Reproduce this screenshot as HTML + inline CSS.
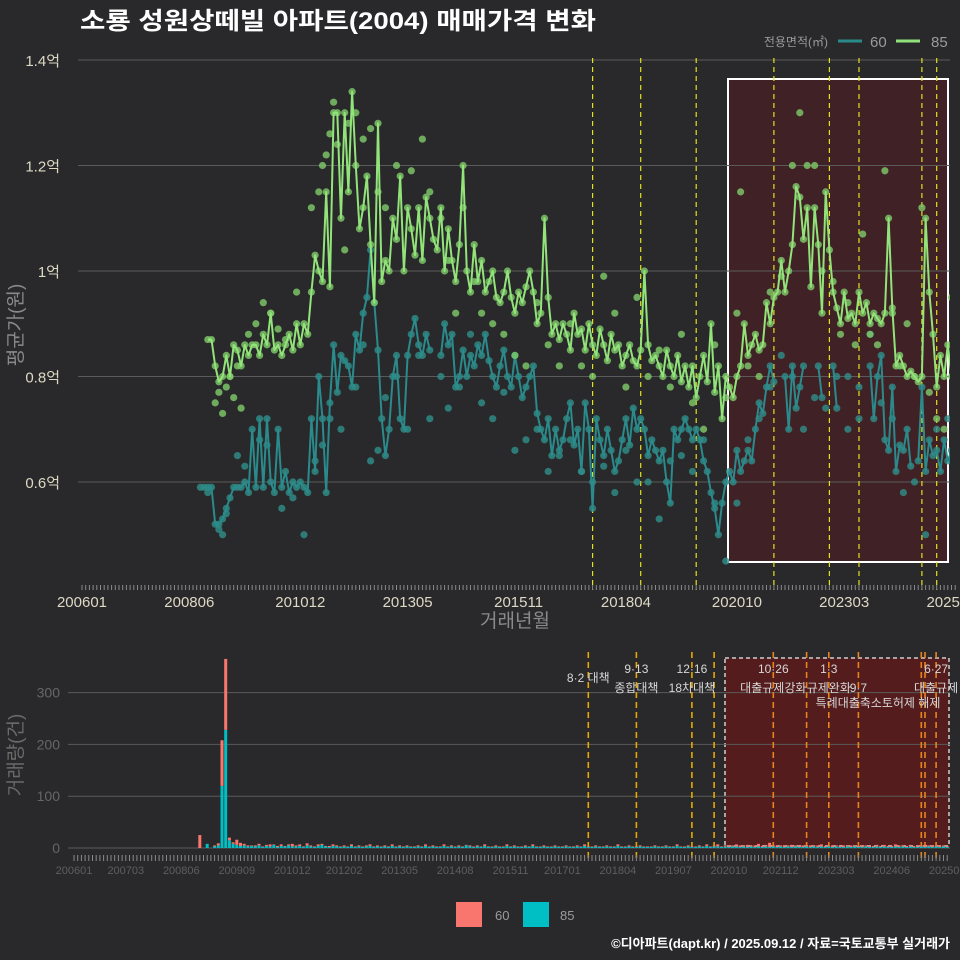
<!DOCTYPE html>
<html><head><meta charset="utf-8">
<style>
html,body{margin:0;padding:0;background:#29292b;width:960px;height:960px;overflow:hidden}
svg{display:block}
text{font-family:"Liberation Sans","Noto Sans CJK KR",sans-serif}
</style></head>
<body>
<svg id="chart" width="960" height="960" viewBox="0 0 960 960" xmlns="http://www.w3.org/2000/svg">
<rect x="0" y="0" width="960" height="960" fill="#29292b"/>
<text x="80" y="29" fill="#ffffff" font-size="24" font-weight="bold" textLength="516" lengthAdjust="spacingAndGlyphs">소룡 성원상떼빌 아파트(2004) 매매가격 변화</text>
<g>
<text x="828" y="46" fill="#9a9a9a" font-size="12" text-anchor="end">전용면적(㎡)</text>
<line x1="838" y1="41" x2="862" y2="41" stroke="#2a8a8a" stroke-width="3"/>
<text x="870" y="47" fill="#9a9a9a" font-size="15">60</text>
<line x1="896" y1="41" x2="920" y2="41" stroke="#90e27a" stroke-width="3"/>
<text x="931" y="47" fill="#9a9a9a" font-size="15">85</text>
</g>
<g id="topPanel"></g>
<g id="bottomPanel"></g>
<text transform="translate(22,325) rotate(-90)" fill="#8a8a8a" font-size="19" text-anchor="middle">평균가(원)</text>
<text x="515" y="627" fill="#8a8a8a" font-size="19" text-anchor="middle">거래년월</text>
<text transform="translate(22,755) rotate(-90)" fill="#6a6a6a" font-size="19" text-anchor="middle">거래량(건)</text>
<g>
<rect x="456" y="902" width="26" height="25" fill="#f8766d"/>
<text x="495" y="920" fill="#9a9a9a" font-size="13">60</text>
<rect x="523" y="902" width="26" height="25" fill="#00bfc4"/>
<text x="560" y="920" fill="#9a9a9a" font-size="13">85</text>
</g>
<text x="950" y="948" fill="#ffffff" font-size="13" font-weight="bold" text-anchor="end">©디아파트(dapt.kr) / 2025.09.12 / 자료=국토교통부 실거래가</text>
</svg>
<script>
// ---- data ----
const startMonth85 = 200811;
const price85 = [0.87,0.87,
0.82,0.79,0.80,0.84,0.80,0.86,0.85,0.82,0.86,0.84,0.86,0.86,
0.84,0.88,0.86,0.92,0.85,0.86,0.84,0.86,0.88,0.85,0.90,0.86,
0.90,0.88,0.96,1.03,1.00,0.98,1.15,0.97,1.30,1.30,1.10,1.30,
1.15,1.34,1.20,1.08,1.12,1.18,1.05,0.94,1.28,0.98,1.02,1.00,
1.10,1.06,1.18,1.00,1.12,1.08,1.03,1.12,1.02,1.14,1.10,1.06,
1.04,1.12,1.00,1.08,1.02,0.98,1.05,1.20,1.00,0.96,1.05,0.98,
1.02,0.96,0.98,1.00,0.95,0.94,0.96,1.00,0.95,0.92,0.96,0.94,
0.97,1.00,0.96,0.90,0.92,1.10,0.95,0.88,0.90,0.87,0.90,0.88,
0.85,0.92,0.88,0.89,0.85,0.90,0.86,0.84,0.89,0.86,0.83,0.88,
0.85,0.86,0.82,0.84,0.86,0.83,0.82,0.85,1.00,0.86,0.83,0.84,
0.82,0.80,0.85,0.82,0.80,0.84,0.79,0.82,0.78,0.82,0.76,0.80,
0.84,0.79,0.90,0.77,0.82,0.72,0.80,0.78,0.76,0.80,0.82,0.90,
0.84,0.86,0.88,0.85,0.86,0.94,0.90,0.95,0.96,1.02,0.96,1.00,
1.05,1.16,1.14,1.06,1.12,0.97,1.12,1.05,0.92,1.15,1.04,0.96,
0.93,0.90,0.96,0.91,0.92,0.90,0.96,0.92,0.94,0.90,0.92,0.91,
0.90,0.92,1.10,0.93,0.82,0.84,0.82,0.80,0.81,0.80,0.79,0.80,
1.10,0.96,0.88,0.78,0.84,0.80,0.86,0.80,0.86];
const startMonth60 = 200810;
const price60 = [0.59,0.59,0.59,
0.52,0.52,0.53,0.55,0.57,0.59,0.59,0.59,0.60,0.58,0.70,0.59,
0.72,0.59,0.72,0.60,0.58,0.70,0.59,0.62,0.58,0.60,0.59,0.60,
0.59,0.58,0.72,0.62,0.80,0.72,0.58,0.75,0.86,0.77,0.84,0.83,
0.82,0.78,0.88,0.85,0.92,0.95,1.04,0.94,0.85,0.72,0.65,0.70,
0.80,0.84,0.72,0.70,0.84,0.88,0.91,0.86,0.84,0.88,0.85,null,
null,0.84,0.90,0.86,0.88,0.78,0.80,0.85,0.80,0.84,0.82,0.86,
0.84,0.88,0.83,0.80,0.78,0.82,0.85,0.80,0.78,0.84,0.80,0.76,
0.78,0.80,0.82,0.73,0.70,0.68,0.72,0.65,0.70,0.66,0.68,0.72,
0.75,0.67,0.70,0.62,0.75,0.70,0.55,0.72,0.68,0.65,0.70,0.66,
0.62,0.64,0.68,0.72,0.67,0.74,0.70,0.72,0.70,0.65,0.68,0.66,
0.64,0.66,0.60,0.56,0.70,0.68,0.70,0.72,0.70,0.68,0.70,0.68,
0.64,0.62,0.58,0.55,0.50,0.56,0.60,0.62,0.60,0.66,0.62,0.64,
0.66,0.64,0.70,0.75,0.73,0.78,0.82,0.79,null,null,0.80,0.70,
0.82,0.74,0.78,0.82,null,null,null,0.82,0.76,null,null,0.82,
0.74,null,null,0.80,null,null,0.78,null,null,0.82,0.72,0.80,
0.84,0.68,0.66,0.78,0.62,0.67,0.66,0.70,0.63,null,0.64,0.78,
0.62,0.68,0.65,0.66,0.62,0.68,0.64,0.66,0.65];
const extra85 = [[200901,0.75],[200902,0.77],[200903,0.73],[200904,0.78],[200905,0.80],[200906,0.76],[200907,0.82],[200908,0.74],[200910,0.88],[200912,0.90],[201002,0.94],[201004,0.92],[201006,0.89],[201008,0.87],[201011,0.96],[201103,1.12],[201105,1.15],[201106,1.20],[201107,1.22],[201108,1.26],[201109,1.32],[201110,1.24],[201112,1.04],[201201,1.28],[201203,1.30],[201205,1.25],[201207,1.27],[201209,1.15],[201211,1.12],[201302,1.20],[201306,1.19],[201309,1.25],[201311,1.15],[201402,1.10],[201404,1.02],[201406,0.92],[201408,1.12],[201411,0.98],[201501,0.92],[201504,0.90],[201507,0.88],[201510,0.84],[201601,0.82],[201604,0.94],[201607,0.86],[201610,0.82],[201701,0.90],[201704,0.82],[201707,0.80],[201710,0.99],[201801,0.92],[201804,0.78],[201807,0.95],[201810,0.80],[201901,0.85],[201904,0.78],[201907,0.88],[201910,0.75],[202001,0.70],[202004,0.86],[202007,0.76],[202010,0.92],[202011,1.15],[202101,0.82],[202104,0.80],[202107,0.96],[202110,0.99],[202201,1.20],[202203,1.30],[202205,1.20],[202207,1.20],[202209,1.00],[202212,0.98],[202302,0.88],[202304,0.94],[202306,0.86],[202308,1.07],[202310,0.88],[202312,0.86],[202402,1.19],[202404,0.92],[202406,0.82],[202408,0.90],[202410,0.80],[202412,1.12],[202502,0.77],[202504,0.72],[202506,0.70],[202508,0.95]];
const extra60 = [[200809,0.59],[200811,0.58],[200902,0.51],[200903,0.50],[200904,0.54],[200907,0.65],[200909,0.63],[201001,0.68],[201003,0.67],[201007,0.55],[201010,0.57],[201101,0.50],[201104,0.64],[201106,0.67],[201108,0.72],[201111,0.70],[201203,0.78],[201205,0.86],[201207,0.64],[201209,0.66],[201211,0.76],[201302,0.80],[201305,0.70],[201308,0.84],[201311,0.72],[201402,0.80],[201404,0.74],[201407,0.78],[201410,0.88],[201501,0.75],[201504,0.72],[201507,0.77],[201510,0.66],[201601,0.68],[201604,0.70],[201607,0.62],[201610,0.65],[201701,0.68],[201704,0.62],[201707,0.60],[201710,0.63],[201801,0.58],[201804,0.66],[201807,0.60],[201810,0.60],[201901,0.53],[201904,0.64],[201907,0.65],[201910,0.62],[202001,0.68],[202004,0.56],[202007,0.45],[202010,0.56],[202101,0.68],[202104,0.72],[202107,0.78],[202110,0.84],[202201,0.80],[202204,0.70],[202207,0.76],[202210,0.74],[202301,0.80],[202304,0.70],[202307,0.72],[202310,0.88],[202401,0.75],[202404,0.72],[202407,0.58],[202410,0.60],[202501,0.50],[202504,0.70],[202507,0.72]];
const volStart = 200810;
const vol60 = [0,25,0,
0,0,2,4,88,137,5,3,10,6,3,2,
1,2,3,1,2,4,1,2,3,1,2,5,
2,3,1,4,2,1,3,2,1,2,3,2,
1,2,1,3,1,2,1,2,3,1,2,1,
2,1,3,1,2,1,2,1,1,2,1,3,
1,2,1,1,3,1,2,1,2,1,1,2,
1,2,1,3,1,1,2,1,1,3,1,2,
1,1,2,1,3,1,1,2,1,1,2,1,
1,2,1,1,2,1,3,1,1,2,1,1,
2,1,1,3,1,1,2,1,1,2,1,1,
1,2,1,1,2,1,1,3,1,1,2,1,
1,2,1,3,1,2,4,1,2,3,2,4,
3,2,4,2,3,5,2,3,8,2,3,2,
3,2,4,2,2,3,2,3,2,3,4,2,
2,3,2,2,3,2,3,2,2,3,2,2,
2,3,2,3,2,2,4,3,2,2,3,2,
3,2,4,2,3,2,3,2,2];
const vol85 = [0,0,0,
8,0,3,5,120,228,15,8,6,4,5,3,
4,3,5,2,4,3,6,2,4,3,5,3,
3,4,2,5,3,2,4,6,3,2,4,3,
2,3,2,4,2,3,2,3,4,2,3,2,
3,2,4,2,3,2,3,2,2,3,2,4,
2,3,2,2,4,2,3,2,3,2,5,3,
2,3,2,4,2,2,3,2,2,4,2,3,
2,2,3,2,4,2,2,3,2,2,3,2,
2,3,2,2,3,2,4,2,2,3,2,2,
3,2,2,4,2,2,3,2,2,3,2,2,
2,3,2,2,3,2,2,4,2,2,3,2,
2,3,2,4,2,3,3,2,3,2,3,3,
2,3,2,3,2,3,2,3,2,3,2,3,
2,3,2,3,2,2,3,2,3,2,3,2,
3,2,3,2,2,3,2,3,2,2,3,2,
2,3,2,3,2,2,3,2,3,2,3,2,
2,3,2,3,2,3,2,3,2];
const yTicks = [0.6,0.8,1.0,1.2,1.4];
const yTickLabels = ['0.6억','0.8억','1억','1.2억','1.4억'];
const xTicksTop = [200601,200806,201012,201305,201511,201804,202010,202303,202508];
const xTicksBottom = [200601,200703,200806,200909,201012,201202,201305,201408,201511,201701,201804,201907,202010,202112,202303,202406,202509];
const volTicks = [0,100,200,300];
const eventsTop = [201707,201808,201911,202108,202211,202307,202412,202504];
const eventsBottom = [201708,201809,201912,202006,202110,202207,202301,202309,202502,202503,202506];
const eventLabels = [
 {m:201708,l1:'',l2:'8·2 대책',anchor:'end'},
 {m:201809,l1:'9·13',l2:'종합대책'},
 {m:201912,l1:'12·16',l2:'18차대책'},
 {m:202110,l1:'10·26',l2:'대출규제강화'},
 {m:202301,l1:'1·3',l2:'규제완화'},
 {m:202309,l1:'',l2:'9·7'},
 {m:202506,l1:'6·27',l2:'대출규제'}];

// ---- scales ----
const NS='http://www.w3.org/2000/svg';
function mi(ym){const y=Math.floor(ym/100),m=ym%100;return (y-2006)*12+(m-1);}
function xTop(m){return 82+m*3.7;}
function yTop(v){return 271-(v-1.0)*527.5;}
function xBot(m){return 74+m*3.7;}
function yBot(v){return 848-v*0.518;}
function mk(tag,attrs,parent){const e=document.createElementNS(NS,tag);for(const k in attrs)e.setAttribute(k,attrs[k]);parent.appendChild(e);return e;}

const topG=document.getElementById('topPanel');
const botG=document.getElementById('bottomPanel');

// top panel
const clipDefs=mk('defs',{},topG);
const cp=mk('clipPath',{id:'cpTop'},clipDefs);
mk('rect',{x:78,y:45,width:872,height:545},cp);
const hl=mk('rect',{x:728,y:79,width:220,height:483,fill:'rgba(110,20,25,0.35)',stroke:'#ffffff','stroke-width':2},topG);


yTicks.forEach((v,i)=>{
 const g=mk('line',{x1:78,x2:950,y1:yTop(v),y2:yTop(v),stroke:'#5a5a5a','stroke-width':1},topG);
 
 
 const t=mk('text',{x:60,y:yTop(v)+6,fill:'#ddd9c4','font-size':15,'text-anchor':'end'},topG);
 t.textContent=yTickLabels[i];
 
 
});
eventsTop.forEach(ym=>{
 const l=mk('line',{x1:xTop(mi(ym)),x2:xTop(mi(ym)),y1:58,y2:590,stroke:'#e3e020','stroke-width':1.2,'stroke-dasharray':'5,4'},topG);
 
 
});
for(let m=0;m<=236;m++){
 const t=mk('line',{x1:xTop(m),x2:xTop(m),y1:585,y2:590,stroke:'#8a8a8a','stroke-width':1},topG);
 
 
}
xTicksTop.forEach(ym=>{
 const t=mk('text',{x:xTop(mi(ym)),y:607,fill:'#ddd9c4','font-size':15,'text-anchor':'middle'},topG);
 t.textContent=String(ym);
 
 
});
const seriesG=mk('g',{'clip-path':'url(#cpTop)'},topG);
function drawSeries(arr,start,extras,lineCol,dotCol,name){
 const s0=mi(start);
 extras.forEach(p=>{
  const c=mk('circle',{cx:xTop(mi(p[0])),cy:yTop(p[1]),r:3.6,fill:dotCol,opacity:0.8},seriesG);
  
  
 });
 arr.forEach((v,i)=>{
  if(v===null)return;
  const c=mk('circle',{cx:xTop(s0+i),cy:yTop(v),r:3.6,fill:dotCol,opacity:0.8},seriesG);
  
  
 });
 let d='',pen=false;
 arr.forEach((v,i)=>{
  if(v===null){pen=false;return;}
  d+=(pen?'L':'M')+xTop(s0+i).toFixed(1)+' '+yTop(v).toFixed(1);pen=true;
 });
 const p=mk('path',{d:d,fill:'none',stroke:lineCol,'stroke-width':2,'stroke-linejoin':'round'},seriesG);
 
 
}
drawSeries(price60,startMonth60,extra60,'#2a8a8c','#2f8f8a','series-60');
drawSeries(price85,startMonth85,extra85,'#92e47a','#7fcc6a','series-85');

// bottom panel
const hl2=mk('rect',{x:725,y:658,width:224,height:188,fill:'rgba(120,18,18,0.55)',stroke:'#cfcfcf','stroke-width':1.5,'stroke-dasharray':'4,3'},botG);


volTicks.forEach(v=>{
 const g=mk('line',{x1:68,x2:950,y1:yBot(v),y2:yBot(v),stroke:'#5a5a5a','stroke-width':1},botG);
 
 
 const t=mk('text',{x:60,y:yBot(v)+5,fill:'#666','font-size':14,'text-anchor':'end'},botG);
 t.textContent=String(v);
 
 
});
eventsBottom.forEach(ym=>{
 const inRect=ym>=202010;
 const l=mk('line',{x1:xBot(mi(ym)),x2:xBot(mi(ym)),y1:652,y2:858,stroke:inRect?'#e8841e':'#e6a800','stroke-width':1.6,'stroke-dasharray':'6,4'},botG);
 
 
});
const vs=mi(volStart);
vol85.forEach((v,i)=>{
 const x=xBot(vs+i)-1.5;
 const v6=vol60[i];
 const b1=mk('rect',{x:x,y:yBot(v),width:3,height:v*0.518,fill:'#00bfc4'},botG);
 
 
 const b2=mk('rect',{x:x,y:yBot(v+v6),width:3,height:v6*0.518,fill:'#f8766d'},botG);
 
 
});
for(let m=0;m<=236;m++){
 const t=mk('line',{x1:xBot(m),x2:xBot(m),y1:855,y2:861,stroke:'#8a8a8a','stroke-width':1},botG);
 
 
}
xTicksBottom.forEach(ym=>{
 const t=mk('text',{x:xBot(mi(ym)),y:874,fill:'#5e5e5e','font-size':11,'text-anchor':'middle'},botG);
 t.textContent=String(ym);
 
 
});
eventLabels.forEach(e=>{
 const x=xBot(mi(e.m));
 if(e.l1){
  const t=mk('text',{x:x,y:673,fill:'#d8d8d8','font-size':12,'text-anchor':'middle'},botG);
  t.textContent=e.l1;
  
  
 }
 const t2=mk('text',{x:x,y:e.anchor==='end'?682:692,fill:'#d8d8d8','font-size':12,'text-anchor':'middle'},botG);
 t2.textContent=e.l2;
 
 
});
const t3=mk('text',{x:878,y:707,fill:'#d8d8d8','font-size':12,'text-anchor':'middle'},botG);
t3.textContent='특례대출축소토허제 해제';


</script>
</body></html>
